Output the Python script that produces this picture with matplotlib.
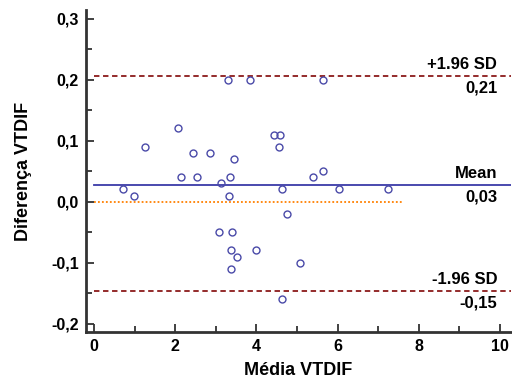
import numpy as np
import matplotlib
matplotlib.use("Agg")
import matplotlib.pyplot as plt
from matplotlib.ticker import MultipleLocator, FuncFormatter

plt.rcParams['font.family'] = ['Liberation Sans', 'DejaVu Sans']
plt.rcParams['font.weight'] = 'bold'

# mean of the two methods / difference between them
media = [0.72, 0.99, 1.26, 2.08, 2.14, 2.45, 2.54, 2.86, 3.09, 3.13, 3.30,
         3.33, 3.35, 3.37, 3.37, 3.39, 3.45, 3.51, 3.83, 3.98, 4.43, 4.59,
         4.56, 4.62, 4.63, 4.76, 5.07, 5.39, 5.63, 5.65, 6.03, 7.25]
diferenca = [0.02, 0.01, 0.09, 0.12, 0.04, 0.08, 0.04, 0.08, -0.05, 0.03, 0.20,
             0.01, 0.04, -0.08, -0.11, -0.05, 0.07, -0.09, 0.20, -0.08, 0.11, 0.11,
             0.09, -0.16, 0.02, -0.02, -0.10, 0.04, 0.20, 0.05, 0.02, 0.02]

mean_diff = 0.028
upper = 0.206
lower = -0.146
zero_end = 7.6

fig = plt.figure(figsize=(5.12, 3.83), dpi=100)
ax = fig.add_axes([86/512, 1-332/383, 425/512, 322/383])

ax.plot(media, diferenca, 'o', ms=5, mfc='none', mec='#4a4aa8', mew=1.0, zorder=3)
x0 = 0.197 / 10.467
ax.axhline(mean_diff, xmin=x0, color='#3a3aa8', lw=1.3)
ax.axhline(upper, xmin=x0, color='#8b1a1a', lw=1.3, ls=(0, (3, 2)))
ax.axhline(lower, xmin=x0, color='#8b1a1a', lw=1.3, ls=(0, (3, 2)))
ax.plot([0, zero_end], [0, 0], color='#ff8000', lw=1.3, ls=(0, (1, 1.2)))

lx = 9.93
for y, top, bot in [(upper, '+1.96 SD', '0,21'),
                    (mean_diff, 'Mean', '0,03'),
                    (lower, '-1.96 SD', '-0,15')]:
    ax.annotate(top, (lx, y), xytext=(0, 2.5), textcoords='offset points',
                ha='right', va='bottom', fontsize=12, fontweight='bold')
    ax.annotate(bot, (lx, y), xytext=(0, -3.5), textcoords='offset points',
                ha='right', va='top', fontsize=12, fontweight='bold')

ax.set_xlim(-0.197, 10.27)
ax.set_ylim(-0.2136, 0.314)
ax.xaxis.set_major_locator(MultipleLocator(2))
ax.xaxis.set_minor_locator(MultipleLocator(1))
ax.yaxis.set_major_locator(MultipleLocator(0.1))
ax.yaxis.set_minor_locator(MultipleLocator(0.05))
ax.yaxis.set_major_formatter(FuncFormatter(lambda v, p: f"{v:.1f}".replace('.', ',').replace('-0,0', '0,0')))
ax.tick_params(which='both', direction='in', color='#333333', width=1.3, labelsize=11.5, pad=5)
ax.tick_params(which='major', length=6)
ax.tick_params(which='minor', length=4)
for s in ['top', 'right']:
    ax.spines[s].set_visible(False)
for s in ['left', 'bottom']:
    ax.spines[s].set_color('#333333')
    ax.spines[s].set_linewidth(2)

ax.set_xlabel('Média VTDIF', fontsize=13, fontweight='bold', labelpad=6)
ax.set_ylabel('Diferença VTDIF', fontsize=13, fontweight='bold', labelpad=14)

fig.savefig('out.png', dpi=100)
